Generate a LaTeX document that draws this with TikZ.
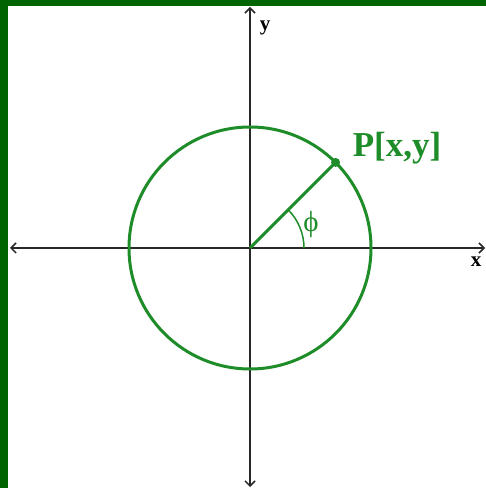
\documentclass[tikz,border=0pt]{standalone}
\usepackage{fontspec}
\setmainfont{Liberation Serif}
\usetikzlibrary{arrows.meta}
\definecolor{frame}{RGB}{0,100,0}
\definecolor{cgreen}{RGB}{30,140,40}
\definecolor{axis}{RGB}{40,40,40}
\tikzset{
  axisline/.style={draw=axis, line width=2pt, {Straight Barb[length=5pt,width=10pt,line width=1.5pt]}-{Straight Barb[length=5pt,width=10pt,line width=1.5pt]}},
  greenline/.style={draw=cgreen, line width=3pt},
  lbl/.style={inner sep=0pt, font=\bfseries}
}
\begin{document}
\begin{tikzpicture}[x=1pt,y=1pt]
\useasboundingbox (0,0) rectangle (486,488);
\fill[white] (0,0) rectangle (486,488);
\fill[frame] (0,0) rectangle (8,488);
\fill[frame] (0,482) rectangle (486,488);
\coordinate (O) at (250,240);
\coordinate (L) at (10,240);
\coordinate (R) at (485,240);
\coordinate (T) at (250,481);
\coordinate (B) at (250,1);
\draw[axisline] (L) -- (R);
\draw[axisline] (B) -- (T);
\draw[greenline] (O) circle[radius=121];
\path (O) ++(45:121) coordinate (P);
\draw[greenline] (O) -- (P);
\fill[cgreen] (P) circle[radius=4.5];
\draw[cgreen, line width=1.5pt] (O) ++(0:54) arc[start angle=0, end angle=45, radius=54];
\node[lbl, font=\bfseries\fontsize{21}{21}\selectfont] (ylab) at (265,460) {y};
\node[lbl, font=\bfseries\fontsize{21}{21}\selectfont] (xlab) at (476,226) {x};
\node[lbl, text=cgreen, font=\bfseries\fontsize{35}{35}\selectfont] (plab) at (397,340) {P[x,y]};
\node[inner sep=0pt, text=cgreen, font=\fontsize{29}{29}\selectfont] (phi) at (311,263) {ϕ};
\end{tikzpicture}
\end{document}
